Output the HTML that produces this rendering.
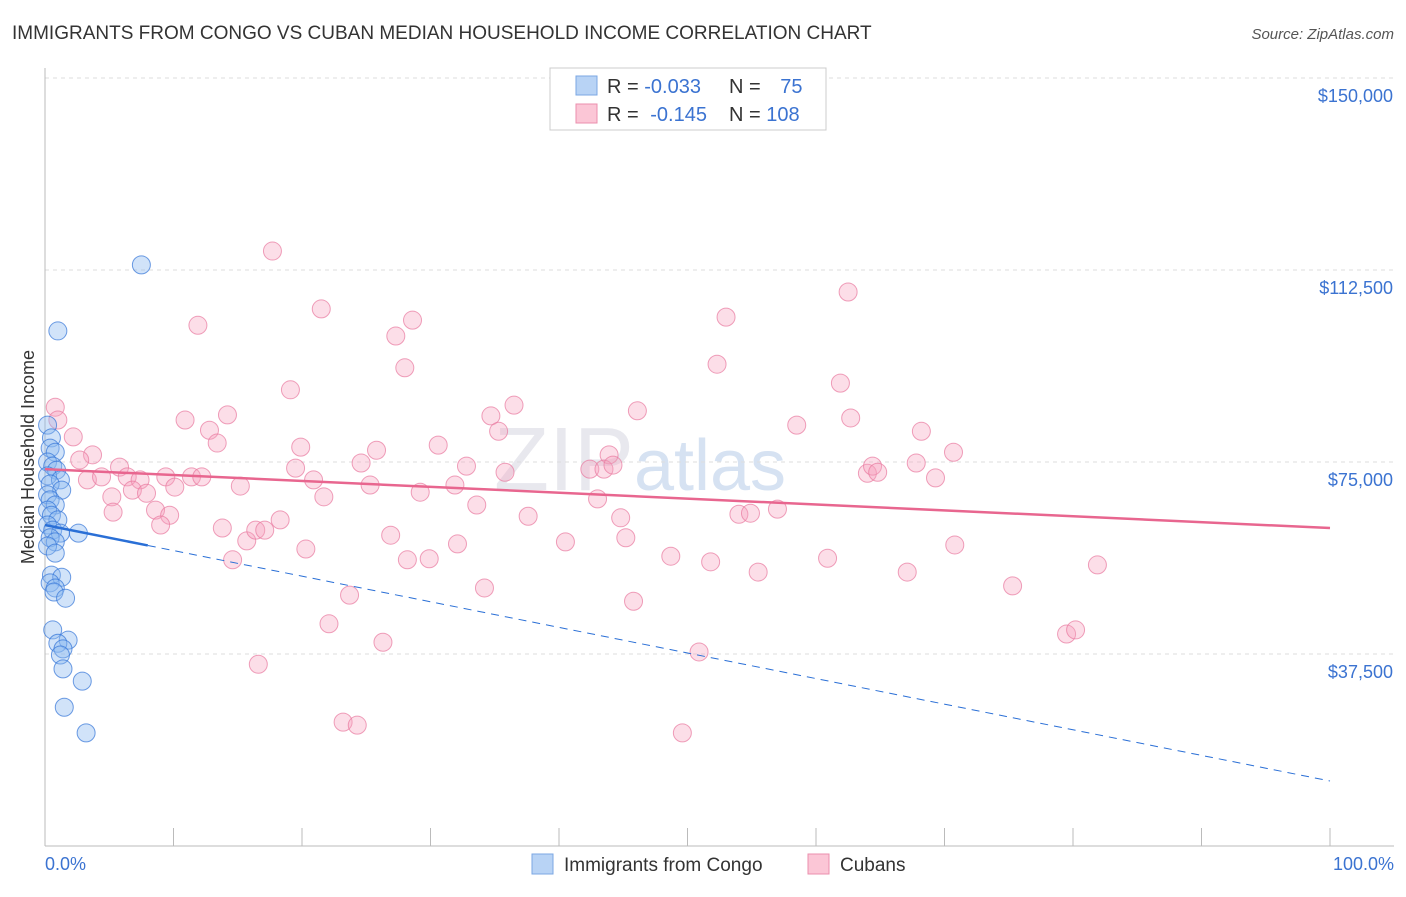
<!DOCTYPE html>
<html><head><meta charset="utf-8"><style>
body{margin:0;background:#fff;font-family:"Liberation Sans",sans-serif;}
svg text{font-family:"Liberation Sans",sans-serif;}
</style></head><body>
<svg id="chart" width="1406" height="892">
<text x="12" y="39" font-size="19" fill="#333">IMMIGRANTS FROM CONGO VS CUBAN MEDIAN HOUSEHOLD INCOME CORRELATION CHART</text>
<text x="1394" y="39" font-size="15" fill="#555" font-style="italic" text-anchor="end">Source: ZipAtlas.com</text>
<text x="640" y="490" font-size="90" fill="#e8e8ee" font-family="Liberation Serif" text-anchor="middle">ZIP<tspan fill="#d6e2f2" font-family="Liberation Sans" font-size="72">atlas</tspan></text>
<g id="grid"></g>
<line x1="45" y1="68" x2="45" y2="846" stroke="#bbb"/>
<line x1="45" y1="846" x2="1394" y2="846" stroke="#bbb"/>
<g id="xticks"></g>
<text transform="translate(34,457) rotate(-90)" font-size="18" fill="#333" text-anchor="middle">Median Household Income</text>
<text x="45" y="870" font-size="18" fill="#3b73d1">0.0%</text>
<text x="1394" y="870" font-size="18" fill="#3b73d1" text-anchor="end">100.0%</text>
<g id="points"></g>
<g id="trends"></g>
<g>
<rect x="550" y="68" width="276" height="62" fill="#fff" stroke="#ccc"/>
<rect x="576" y="76" width="21" height="19" fill="#b8d3f5" stroke="#7ba7e3"/>
<rect x="576" y="104" width="21" height="19" fill="#fbc6d6" stroke="#eb8fad"/>
<text x="607" y="93" font-size="20" fill="#333">R = <tspan fill="#3b73d1">-0.033</tspan></text>
<text x="729" y="93" font-size="20" fill="#333">N = <tspan fill="#3b73d1" dx="14">75</tspan></text>
<text x="607" y="121" font-size="20" fill="#333">R = <tspan fill="#3b73d1" dx="6">-0.145</tspan></text>
<text x="729" y="121" font-size="20" fill="#333">N = <tspan fill="#3b73d1">108</tspan></text>
</g>
<g>
<rect x="532" y="854" width="21" height="20" fill="#b8d3f5" stroke="#7ba7e3"/>
<text x="564" y="871" font-size="19" fill="#333">Immigrants from Congo</text>
<rect x="808" y="854" width="21" height="20" fill="#fbc6d6" stroke="#eb8fad"/>
<text x="840" y="871" font-size="19" fill="#333">Cubans</text>
</g>
</svg>
<script>
const yTicks=[37500,75000,112500,150000];
const yTickLabels=["$37,500","$75,000","$112,500","$150,000"];
const xTicks=[0,10,20,30,40,50,60,70,80,90,100];
const congoX=[7.5,1.0,0.2,0.5,0.4,0.8,0.2,0.6,0.9,0.2,1.2,0.4,1.3,0.2,0.4,0.8,0.2,0.5,1.0,0.2,0.6,1.2,2.6,0.4,0.8,0.2,0.8,0.5,1.3,0.4,0.8,0.7,1.6,0.6,1.8,1.0,1.4,1.2,1.4,2.9,1.5,3.2];
const congoY=[113500,100600,82200,79700,77700,76900,75000,74200,73400,72300,71500,70700,69500,68600,67600,66600,65600,64600,63700,62700,61700,61100,61100,60200,59400,58600,57200,52900,52500,51400,50400,49600,48400,42200,40200,39600,38500,37300,34600,32200,27100,22100];
const cubanX=[0.8,1.0,2.2,3.7,2.7,5.8,3.3,4.4,6.4,7.4,5.2,6.8,7.9,9.4,11.4,12.2,10.1,8.6,9.7,9.0,5.3,10.9,11.9,14.2,12.8,13.4,15.2,13.8,14.6,15.7,16.4,17.1,18.3,17.7,16.6,19.1,19.9,19.5,20.9,21.7,20.3,21.5,22.1,23.2,24.3,23.7,24.6,25.3,25.8,26.9,26.3,27.3,28.0,28.6,29.2,28.2,29.9,30.6,31.9,32.1,32.8,33.6,34.2,34.7,35.3,35.8,36.5,37.6,40.5,42.4,43.0,43.9,43.5,44.2,44.8,45.2,45.8,46.1,48.7,49.6,50.9,51.8,52.3,53.0,54.0,54.9,55.5,57.0,58.5,60.9,61.9,62.5,62.7,64.0,64.4,64.8,67.1,67.8,68.2,69.3,70.7,70.8,75.3,79.5,80.2,81.9];
const cubanY=[85700,83200,79900,76400,75400,74000,71500,72100,72100,71500,68200,69500,68900,72100,72100,72100,70100,65600,64600,62700,65200,83200,101700,84200,81200,78700,70300,62100,55900,59600,61700,61700,63700,116200,35500,89100,77900,73800,71500,68200,58000,104900,43400,24200,23600,49000,74800,70500,77300,60700,39800,99600,93400,102700,69100,55900,56100,78300,70500,59000,74200,66600,50400,84000,81000,73000,86100,64400,59400,73600,67800,76400,73600,74400,64100,60200,47800,85000,56600,22100,37900,55500,94100,103300,64800,65000,53500,65800,82200,56200,90400,108200,83600,72800,74200,73000,53500,74800,81000,71900,76900,58800,50800,41400,42200,54900];
const congoTrend=[62700,12700], congoSolidEnd=8;
const cubanTrend=[73600,62100];
const NS="http://www.w3.org/2000/svg";
const sx=v=>45+v*12.85;
const sy=v=>846-v/37500*192;
function mk(tag,attrs,parent){const e=document.createElementNS(NS,tag);for(const k in attrs)e.setAttribute(k,attrs[k]);document.getElementById(parent).appendChild(e);return e;}
yTicks.forEach((t,i)=>{
 const l=mk('line',{x1:45,x2:1394,y1:sy(t),y2:sy(t),stroke:'#ddd','stroke-dasharray':'4,4'},'grid');
 
 
 const tx=mk('text',{x:1393,y:sy(t)+24,'font-size':18,fill:'#3b73d1','text-anchor':'end'},'grid');
 tx.textContent=yTickLabels[i];
 
 
});
xTicks.forEach(t=>{
 const l=mk('line',{x1:sx(t),x2:sx(t),y1:828,y2:846,stroke:'#bbb'},'xticks');
 
 
});
cubanX.forEach((x,i)=>{
 const c=mk('circle',{cx:sx(x),cy:sy(cubanY[i]),r:9,fill:'rgba(246,160,188,0.35)',stroke:'rgba(232,120,158,0.7)','stroke-width':1},'points');
 
 
});
congoX.forEach((x,i)=>{
 const c=mk('circle',{cx:sx(x),cy:sy(congoY[i]),r:9,fill:'rgba(140,185,240,0.4)',stroke:'rgba(50,115,215,0.7)','stroke-width':1},'points');
 
 
});
const cy=x=>congoTrend[0]+(congoTrend[1]-congoTrend[0])*x/100;
let t1=mk('line',{x1:sx(0),y1:sy(cy(0)),x2:sx(congoSolidEnd),y2:sy(cy(congoSolidEnd)),stroke:'#2a6fd6','stroke-width':2.5},'trends');


let t2=mk('line',{x1:sx(congoSolidEnd),y1:sy(cy(congoSolidEnd)),x2:sx(100),y2:sy(cy(100)),stroke:'#2a6fd6','stroke-width':1,'stroke-dasharray':'8,6'},'trends');


let t3=mk('line',{x1:sx(0),y1:sy(cubanTrend[0]),x2:sx(100),y2:sy(cubanTrend[1]),stroke:'#e8668f','stroke-width':2.5},'trends');


</script>
</body></html>
